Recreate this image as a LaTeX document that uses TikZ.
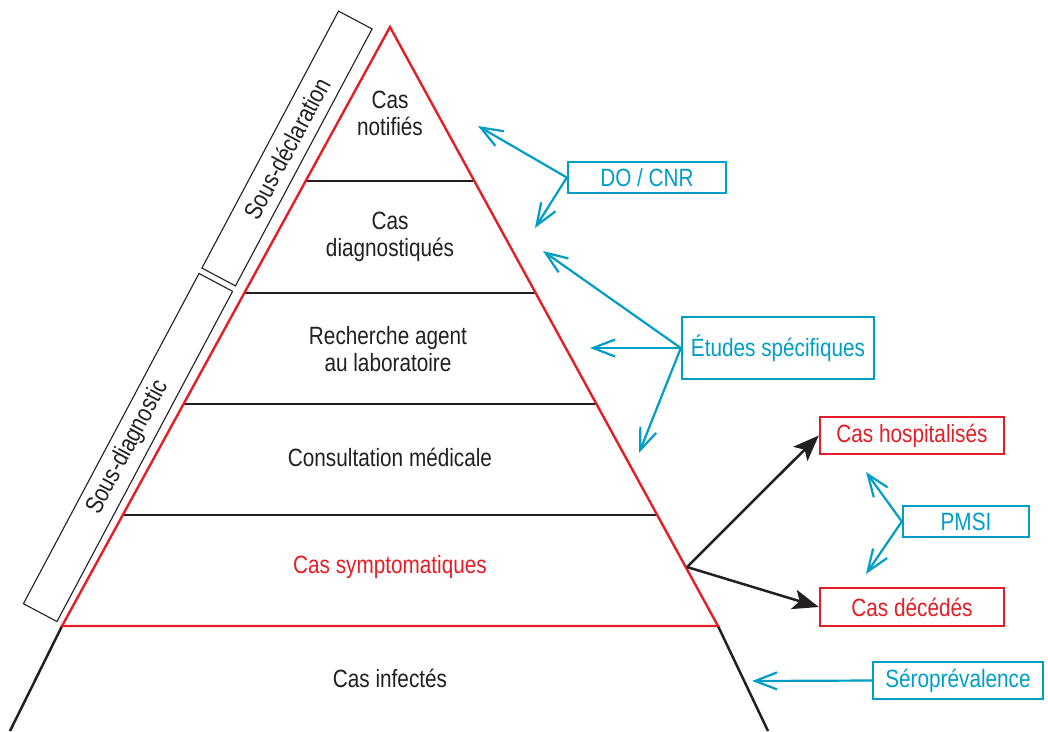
\documentclass[tikz,border=0pt]{standalone}
\usepackage{fontspec}
\setmainfont{Liberation Sans}[FakeStretch=0.83]
\usetikzlibrary{arrows.meta,calc}
\definecolor{pred}{RGB}{228,30,38}
\definecolor{pblue}{RGB}{0,158,198}
\definecolor{pdark}{RGB}{35,31,32}
\begin{document}
\begin{tikzpicture}[x=1pt,y=-1pt,
  font=\fontsize{25}{27}\selectfont,
  lbl/.style={text=pdark, align=center, inner sep=0pt},
  bluebox/.style={draw=pblue, line width=2.4pt, text=pblue, inner sep=0pt},
  redbox/.style={draw=pred, line width=2.4pt, text=pred, inner sep=0pt},
  sidebox/.style={draw=pdark, line width=1.1pt, minimum height=38pt, rotate=62, text=pdark, inner sep=0pt},
  band/.style={pdark, line width=2.5pt},
  barrow/.style={pblue, line width=2.2pt, -{Straight Barb[length=22pt,width=17pt]}},
  karrow/.style={pdark, line width=2.5pt, -{Stealth[length=26pt,width=20pt,inset=6pt]}}]
\useasboundingbox (0,0) rectangle (1048,731);

% pyramid corners
\coordinate (apex) at (390,27);
\coordinate (bl) at (62,626);
\coordinate (br) at (718,626);
\coordinate (fl) at (10,731);
\coordinate (fr) at (768,731);

% band lines
\foreach \t/\n in {0.2571/a,0.4441/b,0.6294/c,0.8147/d}{
  \coordinate (l\n) at ($(apex)!\t!(bl)$);
  \coordinate (r\n) at ($(apex)!\t!(br)$);
  \draw[band] (l\n) -- (r\n);
}
\draw[band] (bl) -- (fl);
\draw[band] (br) -- (fr);
\draw[pred, line width=2.4pt, line join=miter] (apex) -- (bl) -- (br) -- cycle;

% level labels
\node[lbl] (n1) at (390,113) {Cas\\notifiés};
\node[lbl] (n2) at (390,237) {Cas\\diagnostiqués};
\node[lbl] (n3) at (388,349) {Recherche agent\\au laboratoire};
\node[lbl] (n4) at (390,457) {Consultation médicale};
\node[lbl, text=pred] (n5) at (390,567) {Cas symptomatiques};
\node[lbl] (n6) at (390,678) {Cas infectés};

% side boxes
\node[sidebox, minimum width=291pt] (sd) at (287,148.5) {Sous-déclaration};
\node[sidebox, minimum width=374pt] (sg) at (128,447.5) {Sous-diagnostic};

% right boxes
\node[bluebox, minimum width=158pt, minimum height=31pt] (do) at (647,177.5) {DO / CNR};
\node[bluebox, minimum width=192pt, minimum height=62pt] (es) at (778,348) {Études spécifiques};
\node[redbox, minimum width=184pt, minimum height=37pt] (ch) at (912,435.5) {Cas hospitalisés};
\node[bluebox, minimum width=126pt, minimum height=31pt] (pm) at (966,521.5) {PMSI};
\node[redbox, minimum width=184pt, minimum height=38pt] (cd) at (912,607) {Cas décédés};
\node[bluebox, minimum width=170pt, minimum height=37pt] (se) at (958,680.5) {Séroprévalence};

% arrow targets
\coordinate (t1) at (478,126);
\coordinate (t2) at (535,228);
\coordinate (t3) at (543,251);
\coordinate (t4) at (590,348);
\coordinate (t5) at (639,453);
\coordinate (t6) at (866,472);
\coordinate (t7) at (866,574);
\coordinate (t8) at (752,681);
\coordinate (ks) at (687,567);

\draw[barrow] (do.west) -- (t1);
\draw[barrow] (do.west) -- (t2);
\draw[barrow] (es.west) -- (t3);
\draw[barrow] (es.west) -- (t4);
\draw[barrow] (es.west) -- (t5);
\draw[barrow] (pm.west) -- (t6);
\draw[barrow] (pm.west) -- (t7);
\draw[barrow] (se.west) -- (t8);

\draw[karrow] (ks) -- (ch.west);
\draw[karrow] (ks) -- (cd.west);
\end{tikzpicture}
\end{document}
